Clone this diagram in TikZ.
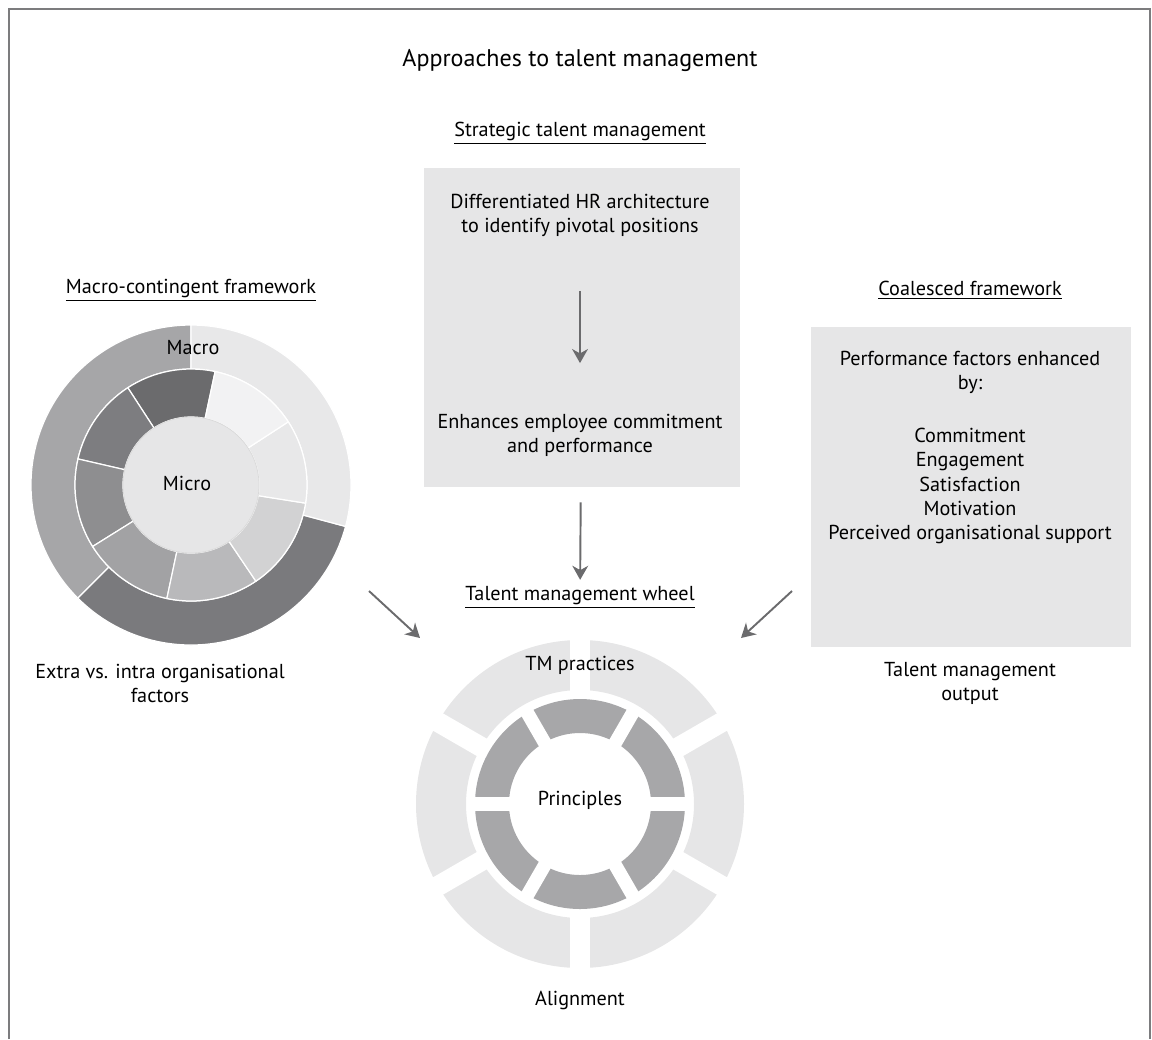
\documentclass[tikz,border=0pt]{standalone}
\usepackage{fontspec}
\setmainfont{PT Sans}
\usetikzlibrary{arrows.meta}

\definecolor{panel}{HTML}{E6E6E7}
\definecolor{arrowgrey}{HTML}{6B6B6D}
\definecolor{framegrey}{HTML}{7C7C7E}
\definecolor{spokegrey}{HTML}{A7A7A9}
% macro ring
\definecolor{macroA}{HTML}{A6A6A8}
\definecolor{macroB}{HTML}{7A7A7D}
\definecolor{macroC}{HTML}{E8E8E9}
% micro ring, counter-clockwise from the top
\definecolor{microA}{HTML}{6B6B6D}
\definecolor{microB}{HTML}{7D7D80}
\definecolor{microC}{HTML}{8E8E90}
\definecolor{microD}{HTML}{A2A2A4}
\definecolor{microE}{HTML}{B9B9BB}
\definecolor{microF}{HTML}{D2D2D3}
\definecolor{microG}{HTML}{E8E8E9}
\definecolor{microH}{HTML}{F2F2F3}

% fill colour, start angle, end angle, inner radius, outer radius
\newcommand{\ringpart}[5]{%
  \fill[#1, draw=white, line width=0.7pt] (#2:#5) arc[start angle=#2, end angle=#3, radius=#5]
    -- (#3:#4) arc[start angle=#3, end angle=#2, radius=#4] -- cycle;}

\tikzset{
  txt/.style={font=\fontsize{11.5}{13.7}\selectfont, align=center},
  title/.style={font=\fontsize{13.7}{16}\selectfont},
  panelbox/.style={fill=panel, inner sep=0pt},
  arr/.style={draw=arrowgrey, line width=1.1pt, -{Stealth[length=8pt, width=9pt, inset=2.5pt]}},
}

\begin{document}
\begin{tikzpicture}[x=0.02cm, y=0.02cm]
\useasboundingbox (0,0) rectangle (1152,-1039);

% frame, open at the bottom
\draw[framegrey, line width=1.1pt] (9,-1039) -- (9,-9) -- (1150,-9) -- (1150,-1039);

\node[title] (title) at (580,-60) {Approaches to talent management};

% strategic talent management
\node[txt] (stmhead) at (580,-133) {\underline{Strategic talent management}};
\node[panelbox, minimum width=6.32cm, minimum height=6.38cm] (stm) at (582,-327.5) {};
\node[txt] (diff) at (580,-215) {Differentiated HR architecture\\to identify pivotal positions};
\node[txt] (enh) at (580,-435) {Enhances employee commitment\\and performance};
\draw[arr, shorten <=0.97cm, shorten >=0.89cm] (diff) -- (enh);

% macro-contingent framework
\node[txt] (mcfhead) at (191,-290) {\underline{Macro-contingent framework}};
\begin{scope}[shift={(191,-485)}]
  \ringpart{macroA}{90}{225}{116}{160}
  \ringpart{macroB}{225}{345}{116}{160}
  \ringpart{macroC}{-15}{90}{116}{160}
  \ringpart{microA}{78}{123}{68}{116}
  \ringpart{microB}{123}{167}{68}{116}
  \ringpart{microC}{167}{212}{68}{116}
  \ringpart{microD}{212}{258}{68}{116}
  \ringpart{microE}{258}{304}{68}{116}
  \ringpart{microF}{304}{351}{68}{116}
  \ringpart{microG}{351}{393}{68}{116}
  \ringpart{microH}{33}{78}{68}{116}
  \fill[panel, draw=black!15, line width=0.4pt] (0,0) circle[radius=68];
\end{scope}
\node[txt] (macro) at (193,-348) {Macro};
\node[txt] (micro) at (187,-483) {Micro};
\node[txt] (extra) at (160,-683) {Extra vs. intra organisational\\factors};

% coalesced framework
\node[txt] (cfhead) at (970,-290) {\underline{Coalesced framework}};
\node[panelbox, minimum width=6.4cm, minimum height=6.4cm] (cf) at (971,-487) {};
\node[txt] (perf) at (970,-372) {Performance factors enhanced\\by:};
\node[txt] (factors) at (970,-486) {Commitment\\Engagement\\Satisfaction\\Motivation\\Perceived organisational support};
\node[txt] (output) at (970,-683) {Talent management\\output};

% talent management wheel
\node[txt] (wheelhead) at (580,-597) {\underline{Talent management wheel}};
\draw[arr, shorten <=0.3cm] (stm) -- (wheelhead);
\begin{scope}[shift={(580,-804)}]
  \fill[panel, even odd rule] (0,0) circle[radius=164] (0,0) circle[radius=114];
  \foreach \a in {30,90,...,330}
    \draw[white, line width=0.4cm] (\a:108) -- (\a:172);
  \fill[spokegrey, even odd rule] (0,0) circle[radius=105] (0,0) circle[radius=71];
  \foreach \a in {0,60,...,300}
    \draw[white, line width=0.27cm] (\a:65) -- (\a:110);
\end{scope}
\node[txt] (practices) at (580,-665) {TM practices};
\node[txt] (principles) at (580,-800) {Principles};
\node[txt] (alignment) at (580,-1000) {Alignment};

% side arrows into the wheel
\coordinate (lfrom) at (369,-591);
\coordinate (lto) at (420,-638);
\coordinate (rfrom) at (792,-591);
\coordinate (rto) at (741,-638);
\draw[arr] (lfrom) -- (lto);
\draw[arr] (rfrom) -- (rto);
\end{tikzpicture}
\end{document}
